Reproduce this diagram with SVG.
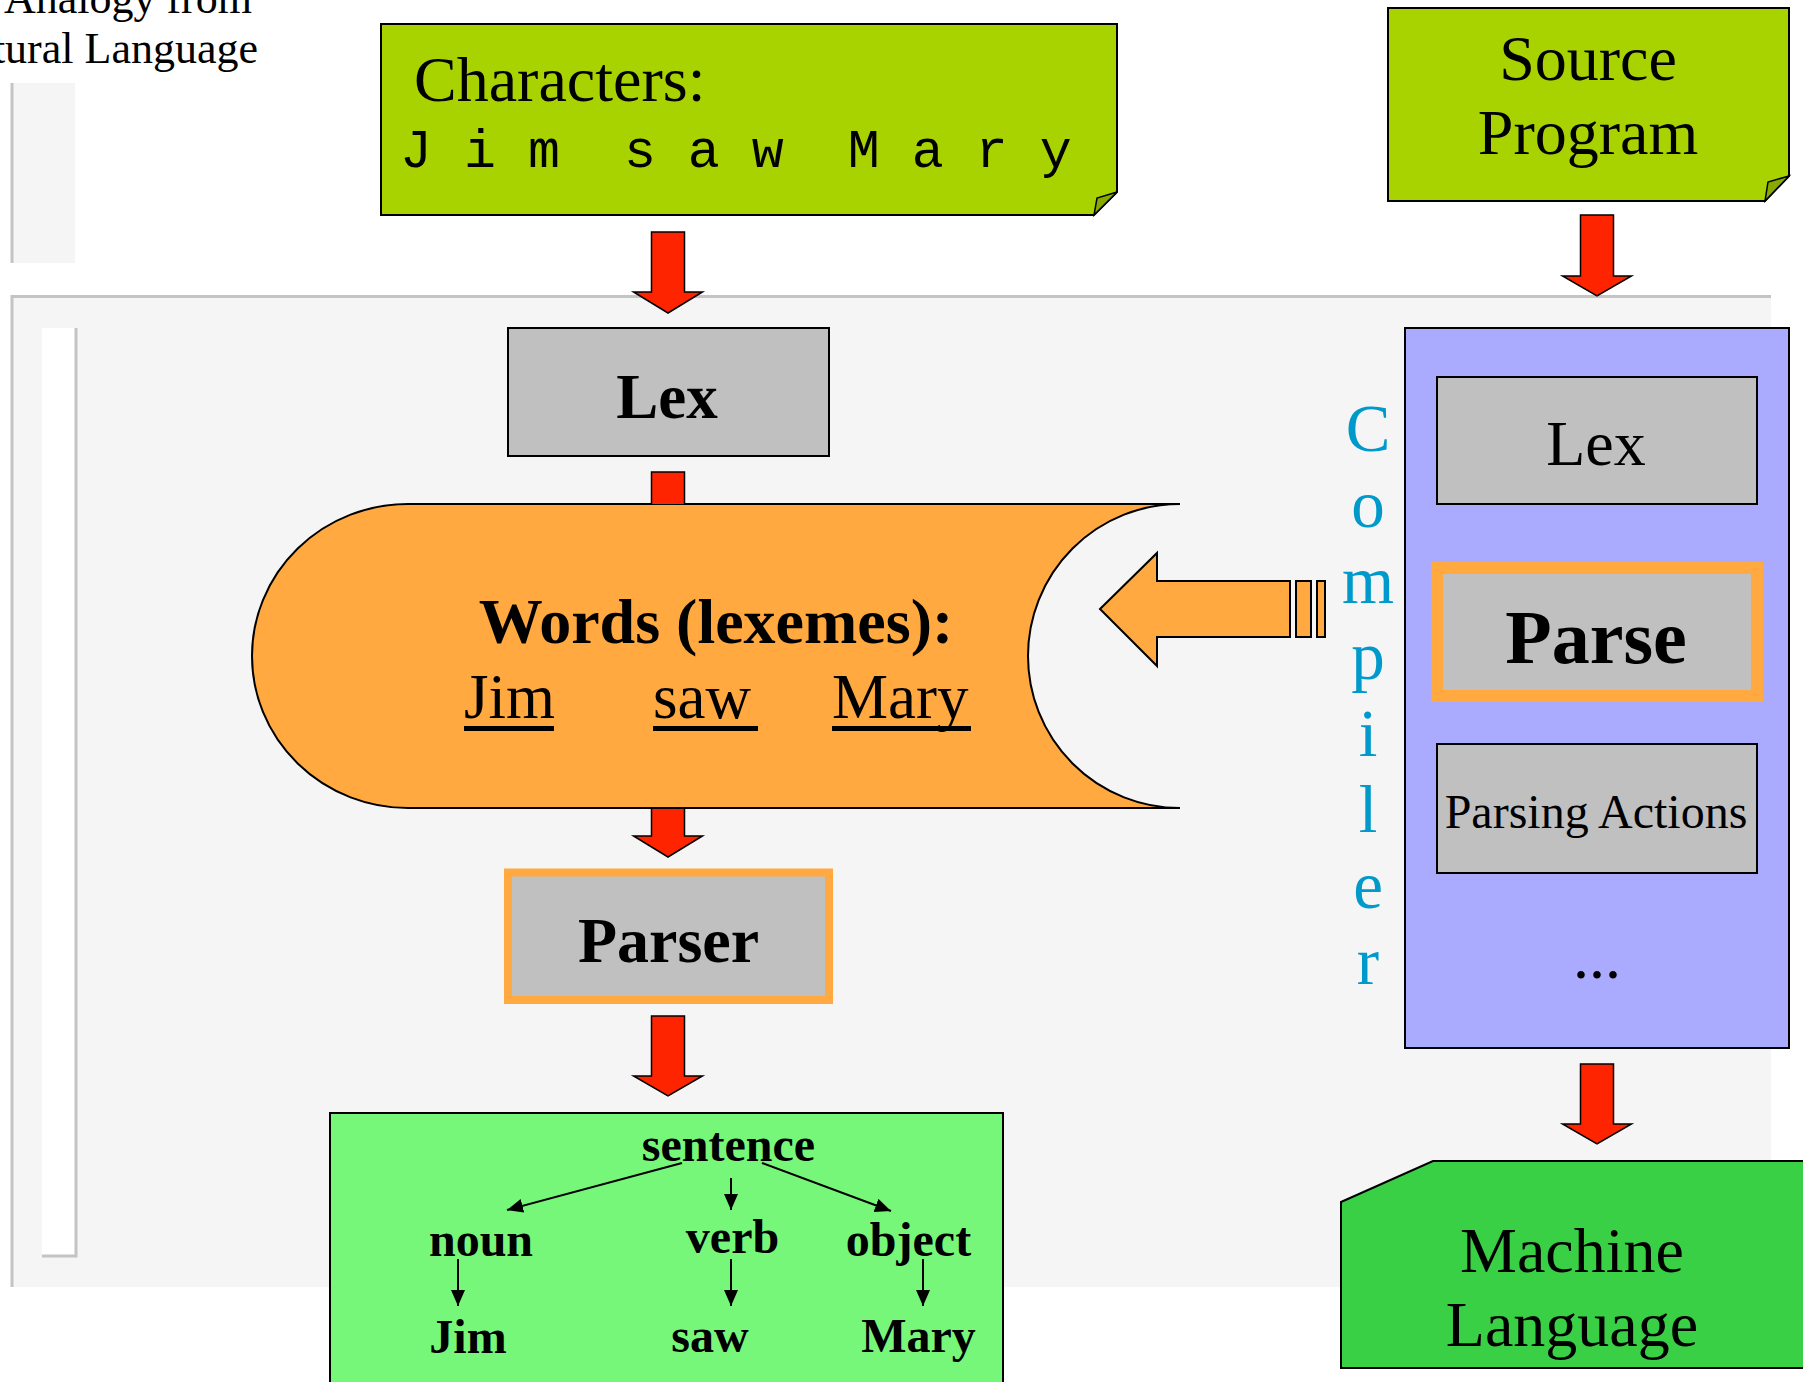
<svg xmlns="http://www.w3.org/2000/svg" width="1803" height="1382" viewBox="0 0 1803 1382">
  <style>
    .serif { font-family: "Liberation Serif", "Times New Roman", serif; }
    .bold { font-weight: bold; }
    .mid { text-anchor: middle; }
    .box { fill: #c0c0c0; stroke: #000; stroke-width: 2; }
    .hot { fill: #c0c0c0; stroke: #ffa940; }
    .flow { fill: #ff2400; stroke: #000; stroke-width: 1.5; stroke-linejoin: miter; }
    .edge { stroke: #000; stroke-width: 2; fill: none; marker-end: url(#tip); }
    .rule { stroke: #c4c4c4; stroke-width: 3; fill: none; }
  </style>
  <defs>
    <marker id="tip" markerUnits="userSpaceOnUse" viewBox="0 0 16 14" markerWidth="16" markerHeight="14" refX="16" refY="7" orient="auto">
      <path d="M0,0 L16,7 L0,14 Z" fill="#000"/>
    </marker>
  </defs>

  <rect width="1803" height="1382" fill="#ffffff"/>

  <!-- heading, partly cut at the left edge -->
  <g id="heading" class="serif" font-size="44" fill="#000" text-anchor="end">
    <text x="252" y="13">An Analogy from</text>
    <text x="258" y="63">Natural Language</text>
  </g>

  <!-- backdrop panels -->
  <g id="backdrop">
    <rect x="12" y="83" width="63" height="180" fill="#f5f5f5"/>
    <line class="rule" x1="12" y1="83" x2="12" y2="263"/>
    <rect x="12" y="296" width="1759" height="991" fill="#f5f5f5"/>
    <polyline class="rule" points="12,1287 12,296.5 1771,296.5"/>
    <rect x="42" y="328" width="34" height="928" fill="#ffffff"/>
    <polyline class="rule" points="42,1256 76,1256 76,328"/>
  </g>

  <!-- input characters -->
  <g id="characters">
    <path d="M381,24 H1117 V192 L1094,215 H381 Z" fill="#a9d300" stroke="#000" stroke-width="2"/>
    <path d="M1117,192 L1097,198 L1094,215 Z" fill="#88aa00" stroke="#000" stroke-width="1.5"/>
    <text class="serif" x="414" y="101" font-size="64">Characters:</text>
    <text x="400" y="167" font-family="Liberation Mono, Courier New, monospace" font-size="53.3" xml:space="preserve" style="white-space:pre">J i m  s a w  M a r y</text>
  </g>

  <g id="lex">
    <rect class="box" x="508" y="328" width="321" height="128"/>
    <text class="serif bold mid" x="667" y="418" font-size="63">Lex</text>
  </g>

  <!-- lexeme stream (stored data shape) -->
  <g id="words">
    <path d="M408,504 H1180 A152,152 0 0 0 1028,656 A152,152 0 0 0 1180,808 H408 A156,152 0 0 1 252,656 A156,152 0 0 1 408,504 Z" fill="#ffa940" stroke="#000" stroke-width="2"/>
    <text class="serif bold mid" x="716" y="643" font-size="64">Words (lexemes):</text>
    <g class="serif" font-size="63">
      <text x="464" y="718">Jim</text>
      <text x="653" y="718">saw</text>
      <text x="832" y="718">Mary</text>
    </g>
    <rect x="464" y="726" width="90" height="5"/>
    <rect x="653" y="726" width="105" height="5"/>
    <rect x="832" y="726" width="139" height="5"/>
  </g>

  <g id="parser">
    <rect class="hot" x="508" y="872.5" width="321" height="127.5" stroke-width="8"/>
    <text class="serif bold mid" x="668.5" y="962" font-size="64">Parser</text>
  </g>

  <!-- parse tree -->
  <g id="tree">
    <rect x="330" y="1113" width="673" height="300" fill="#77f77a" stroke="#000" stroke-width="2"/>
    <g class="serif bold mid" font-size="48">
      <text x="728.5" y="1161">sentence</text>
      <text x="481" y="1256">noun</text>
      <text x="732.5" y="1253">verb</text>
      <text x="908.5" y="1256">object</text>
      <text x="468" y="1353">Jim</text>
      <text x="710" y="1352">saw</text>
      <text x="918.5" y="1352">Mary</text>
    </g>
  </g>

  <g id="source-program">
    <path d="M1388,8 H1789 V176 L1765,201 H1388 Z" fill="#a9d300" stroke="#000" stroke-width="2"/>
    <path d="M1789,176 L1768,182 L1765,201 Z" fill="#88aa00" stroke="#000" stroke-width="1.5"/>
    <g class="serif mid" font-size="64">
      <text x="1588" y="80">Source</text>
      <text x="1588" y="154">Program</text>
    </g>
  </g>

  <g id="compiler">
    <rect x="1405" y="328" width="384" height="720" fill="#aaaaff" stroke="#000" stroke-width="2"/>
    <text class="serif mid" font-size="67" fill="#0099cc"><tspan x="1368" y="451">C</tspan><tspan x="1368" y="527">o</tspan><tspan x="1368" y="603">m</tspan><tspan x="1368" y="679">p</tspan><tspan x="1368" y="756">i</tspan><tspan x="1368" y="832">l</tspan><tspan x="1368" y="908">e</tspan><tspan x="1368" y="984">r</tspan></text>
  </g>

  <g id="compiler-lex">
    <rect class="box" x="1437" y="377" width="320" height="127"/>
    <text class="serif mid" x="1596" y="465" font-size="64">Lex</text>
  </g>

  <g id="compiler-parse">
    <rect class="hot" x="1437" y="568" width="320" height="128" stroke-width="12"/>
    <text class="serif bold mid" x="1596" y="663" font-size="76">Parse</text>
  </g>

  <g id="parsing-actions">
    <rect class="box" x="1437" y="744" width="320" height="129"/>
    <text class="serif mid" x="1596" y="828" font-size="48">Parsing Actions</text>
  </g>

  <g id="more-phases">
    <text class="serif mid" x="1597" y="978" font-size="64">...</text>
  </g>

  <g id="machine-language">
    <path d="M1341,1202 L1433,1161 H1812 V1368 H1341 Z" fill="#3ad046" stroke="#000" stroke-width="2"/>
    <g class="serif mid" font-size="64">
      <text x="1572" y="1272">Machine</text>
      <text x="1572" y="1346">Language</text>
    </g>
  </g>

  <!-- connectors -->
  <g id="connectors">
    <path class="flow" d="M651.5,232 h33 V292 h18 L668,313 L633.5,292 h18 Z"/>
    <!-- Lex into the stream: only the shaft shows above the stream shape -->
    <path class="flow" d="M651.5,504 V472 h33 V504"/>
    <!-- stream out to the parser: shaft emerges from under the stream -->
    <path class="flow" d="M651.5,809 V836 h-18 L668,857 L702.5,836 h-18 V809"/>
    <path class="flow" d="M651.5,1016 h33 V1076 h18 L668,1096 L633.5,1076 h18 Z"/>
    <path class="flow" d="M1580.5,215 h33 V276 h18 L1597,296 L1562.5,276 h18 Z"/>
    <path class="flow" d="M1580.5,1064 h33 V1124 h18 L1597,1144 L1562.5,1124 h18 Z"/>
    <!-- compiler feeds the lexeme stream -->
    <g fill="#ffa940" stroke="#000" stroke-width="2" stroke-linejoin="miter">
      <path d="M1100,609 L1157,553 V581 H1290 V637 H1157 V666 Z"/>
      <rect x="1296" y="581" width="15" height="56"/>
      <rect x="1317" y="581" width="8" height="56"/>
    </g>
    <!-- parse tree edges -->
    <line class="edge" x1="682" y1="1163" x2="507" y2="1210"/>
    <line class="edge" x1="731" y1="1178" x2="731" y2="1210"/>
    <line class="edge" x1="762" y1="1163" x2="891" y2="1211"/>
    <line class="edge" x1="458" y1="1259" x2="458" y2="1306"/>
    <line class="edge" x1="731" y1="1259" x2="731" y2="1306"/>
    <line class="edge" x1="923" y1="1259" x2="923" y2="1306"/>
  </g>
</svg>
